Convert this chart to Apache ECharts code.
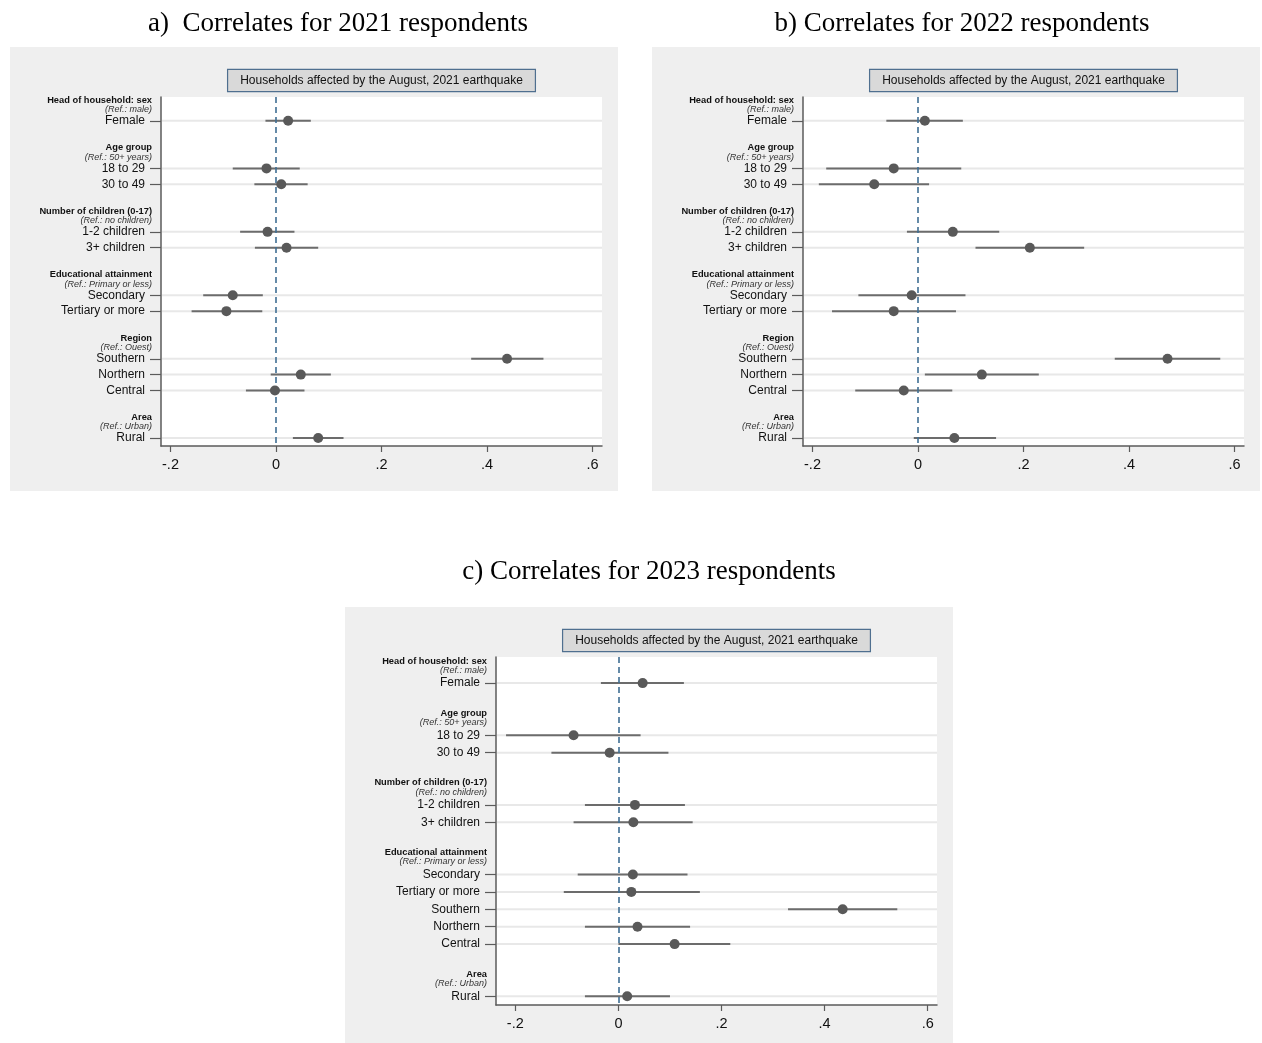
<!DOCTYPE html>
<html>
<head>
<meta charset="utf-8">
<title>Correlates for 2021-2023 respondents</title>
<script src="https://cdn.jsdelivr.net/npm/echarts@6/dist/echarts.min.js"></script>
<style>
  html, body { margin: 0; padding: 0; background: #fff; }
  #chart { width: 1262px; height: 1043px; }
</style>
</head>
<body>
<div id="chart"></div>
<script>
// rows, top to bottom
const rowLabels = ['Female', '18 to 29', '30 to 49', '1-2 children', '3+ children', 'Secondary', 'Tertiary or more', 'Southern', 'Northern', 'Central', 'Rural'];
const rowGroup = [0, 1, 1, 2, 2, 3, 3, 4, 4, 4, 5];
const groupHeads = ['Head of household: sex', 'Age group', 'Number of children (0-17)', 'Educational attainment', 'Region', 'Area'];
const groupRefs = ['(Ref.: male)', '(Ref.: 50+ years)', '(Ref.: no children)', '(Ref.: Primary or less)', '(Ref.: Ouest)', '(Ref.: Urban)'];
const headsShown = [true, true, true, true, true, true];
// the 2023 panel has no Region heading
const headsShown2023 = [true, true, true, true, false, true];

// point estimates and 95% CI
const est2021 = [0.023, -0.018, 0.010, -0.016, 0.020, -0.082, -0.094, 0.438, 0.047, -0.002, 0.080];
const lo2021 = [-0.020, -0.082, -0.041, -0.068, -0.040, -0.138, -0.160, 0.370, -0.010, -0.057, 0.032];
const hi2021 = [0.066, 0.045, 0.060, 0.035, 0.080, -0.025, -0.026, 0.507, 0.104, 0.054, 0.128];

const est2022 = [0.013, -0.046, -0.083, 0.066, 0.212, -0.012, -0.046, 0.473, 0.121, -0.027, 0.069];
const lo2022 = [-0.060, -0.174, -0.188, -0.021, 0.109, -0.113, -0.163, 0.373, 0.013, -0.119, -0.008];
const hi2022 = [0.085, 0.082, 0.021, 0.154, 0.315, 0.090, 0.072, 0.573, 0.229, 0.065, 0.148];

const est2023 = [0.047, -0.087, -0.017, 0.032, 0.029, 0.028, 0.025, 0.435, 0.037, 0.109, 0.017];
const lo2023 = [-0.034, -0.218, -0.130, -0.065, -0.087, -0.079, -0.106, 0.329, -0.065, 0.000, -0.065];
const hi2023 = [0.127, 0.043, 0.097, 0.129, 0.144, 0.134, 0.158, 0.541, 0.139, 0.217, 0.100];

const xTicks = [-0.2, 0, 0.2, 0.4, 0.6];
const legendText = 'Households affected by the August, 2021 earthquake';

const axisColor = '#5b5b5b';
const sans = '"Liberation Sans", Arial, sans-serif';

// slot list for the category axis: heading rows, blank spacer rows, data rows
function buildSlots(shown) {
  const cats = [];
  const rowSlot = [];
  let prev = -1;
  rowLabels.forEach((lab, i) => {
    const g = rowGroup[i];
    if (g !== prev && shown[g]) {
      if (cats.length) cats.push('#gap' + cats.length);
      cats.push('#head' + g);
    }
    prev = g;
    rowSlot.push(cats.length);
    cats.push(lab);
  });
  return { cats, rowSlot };
}

function yLabel(v) {
  if (v.indexOf('#head') === 0) {
    const g = +v.slice(5);
    return '{h|' + groupHeads[g] + '}\n{r|' + groupRefs[g] + '}';
  }
  if (v.indexOf('#gap') === 0) return '';
  return '{v|' + v + '}';
}

function xLabel(v) {
  if (Math.abs(v) < 1e-9) return '0';
  return String(+v.toFixed(1)).replace('0.', '.');
}

const panels = [
  { est: est2021, lo: lo2021, hi: hi2021, shown: headsShown, min: -0.218, max: 0.618,
    grid: { left: 161, top: 97, width: 441, height: 349 },
    bg: [10, 47, 608, 444], title: 'a)  Correlates for 2021 respondents', tx: 338, ty: 24 },
  { est: est2022, lo: lo2022, hi: hi2022, shown: headsShown, min: -0.218, max: 0.618,
    grid: { left: 803, top: 97, width: 441, height: 349 },
    bg: [652, 47, 608, 444], title: 'b) Correlates for 2022 respondents', tx: 962, ty: 24 },
  { est: est2023, lo: lo2023, hi: hi2023, shown: headsShown2023, min: -0.2375, max: 0.618,
    grid: { left: 496, top: 657, width: 441, height: 348 },
    bg: [345, 607, 608, 436], title: 'c) Correlates for 2023 respondents', tx: 649, ty: 572 }
];

const grids = [], xAxes = [], yAxes = [], series = [], graphics = [];

panels.forEach((p, k) => {
  const s = buildSlots(p.shown);
  grids.push(Object.assign({ show: true, backgroundColor: '#fff', borderWidth: 0 }, p.grid));

  xAxes.push({
    type: 'value', gridIndex: k, min: p.min, max: p.max,
    axisLine: { show: true, onZero: false, lineStyle: { color: axisColor, width: 1.5 } },
    axisTick: { show: true, length: 6, customValues: xTicks, lineStyle: { color: axisColor, width: 1.2 } },
    axisLabel: { customValues: xTicks, formatter: xLabel, fontSize: 14.5, color: '#111', margin: 11, fontFamily: sans },
    splitLine: { show: false }
  });

  yAxes.push({
    type: 'category', gridIndex: k, data: s.cats, inverse: true, boundaryGap: true,
    axisLine: { show: true, onZero: false, lineStyle: { color: axisColor, width: 1.5 } },
    axisTick: {
      show: true, length: 11, alignWithLabel: true,
      interval: (i, v) => v.charAt(0) !== '#',
      lineStyle: { color: axisColor, width: 1.2 }
    },
    axisLabel: {
      interval: 0, margin: 9, formatter: yLabel, fontFamily: sans,
      rich: {
        h: { fontSize: 9.3, fontWeight: 'bold', color: '#111', lineHeight: 9.5, fontFamily: sans },
        r: { fontSize: 9, fontStyle: 'italic', color: '#333', lineHeight: 9.5, fontFamily: sans },
        v: { fontSize: 12, color: '#111', padding: [0, 7, 0, 0], fontFamily: sans }
      }
    },
    splitLine: { show: false }
  });

  // row gridline + confidence interval
  series.push({
    type: 'custom', xAxisIndex: k, yAxisIndex: k, z: 2, silent: true,
    data: p.lo.map((l, i) => [l, p.hi[i], p.est[i], s.rowSlot[i]]),
    encode: { x: [0, 1], y: 3 },
    renderItem: (params, api) => {
      const cs = params.coordSys;
      const a = api.coord([api.value(0), api.value(3)]);
      const b = api.coord([api.value(1), api.value(3)]);
      return {
        type: 'group',
        children: [
          { type: 'line', shape: { x1: cs.x + 1, y1: a[1], x2: cs.x + cs.width, y2: a[1] },
            style: { stroke: '#e8e8e8', lineWidth: 2 } },
          { type: 'line', shape: { x1: a[0], y1: a[1], x2: b[0], y2: b[1] },
            style: { stroke: '#6c6c6c', lineWidth: 2 } }
        ]
      };
    }
  });

  // point estimates, dashed reference line at zero
  series.push({
    type: 'scatter', xAxisIndex: k, yAxisIndex: k, z: 6, silent: true,
    symbolSize: 10,
    itemStyle: { color: '#595959', opacity: 1 },
    data: p.est.map((e, i) => [e, s.rowSlot[i]]),
    markLine: {
      silent: true, symbol: 'none', label: { show: false },
      lineStyle: { type: [6, 4], color: '#3f6e93', width: 1.6 },
      data: [{ xAxis: 0 }]
    }
  });

  graphics.push({
    type: 'rect', z: -10,
    shape: { x: p.bg[0], y: p.bg[1], width: p.bg[2], height: p.bg[3] },
    style: { fill: '#efefef' }
  });
  graphics.push({
    type: 'text', z: 10, x: p.tx, y: p.ty,
    style: { text: p.title, font: '27px "Liberation Serif", "Times New Roman", serif', fill: '#000',
      align: 'center', verticalAlign: 'middle' }
  });
  graphics.push({
    type: 'text', z: 10, x: p.grid.left + p.grid.width / 2, y: p.grid.top - 16.5,
    style: { text: legendText, font: '12px ' + sans, fill: '#111', align: 'center', verticalAlign: 'middle',
      backgroundColor: '#d9d9d9', borderColor: '#4f6f8f', borderWidth: 1.2, padding: [5, 12, 4, 12] }
  });
});

const myChart = echarts.init(document.getElementById('chart'));
myChart.setOption({
  animation: false,
  backgroundColor: '#fff',
  grid: grids,
  xAxis: xAxes,
  yAxis: yAxes,
  series: series,
  graphic: graphics
});
</script>
</body>
</html>
